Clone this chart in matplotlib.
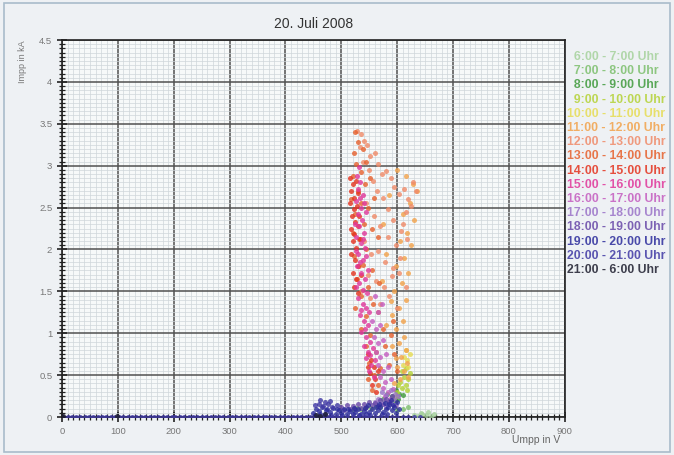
import numpy as np
import matplotlib
matplotlib.use('Agg')
import matplotlib.pyplot as plt
from matplotlib.ticker import MultipleLocator
from matplotlib.patches import Rectangle

plt.rcParams['font.family'] = ['Liberation Sans', 'DejaVu Sans']

# hour bins shown in the key, in drawing order
hour_labels = ['6:00 - 7:00 Uhr', '7:00 - 8:00 Uhr', '8:00 - 9:00 Uhr', '9:00 - 10:00 Uhr',
               '10:00 - 11:00 Uhr', '11:00 - 12:00 Uhr', '12:00 - 13:00 Uhr', '13:00 - 14:00 Uhr',
               '14:00 - 15:00 Uhr', '15:00 - 16:00 Uhr', '16:00 - 17:00 Uhr', '17:00 - 18:00 Uhr',
               '18:00 - 19:00 Uhr', '19:00 - 20:00 Uhr', '20:00 - 21:00 Uhr', '21:00 - 6:00 Uhr']
hour_colors = ['#a6d29c', '#7cbf6c', '#3f9a3c', '#b4d236', '#e6dc52', '#f2a24a', '#f08a68', '#e6602c',
               '#e4321e', '#e0369a', '#c45cc0', '#9a72c8', '#6848a8', '#2c2c9c', '#4038a4', '#1e1e2e']

# (Umpp [V], Impp [A]) samples per hour
pts_0607 = [(630, 0.02), (638, 0.01), (645, 0.03), (652, 0.02), (660, 0.01), (665, 0.03), (642, 0.05), (655, 0.06)]
pts_0708 = [(520, 0.10), (528, 0.11), (536, 0.10), (545, 0.12), (553, 0.11), (562, 0.13), (570, 0.12),
            (600, 0.08), (610, 0.10), (620, 0.12)]
pts_0809 = [(575, 0.22), (582, 0.28), (590, 0.25), (597, 0.32), (604, 0.28), (586, 0.18), (594, 0.20),
            (602, 0.22), (610, 0.26)]
pts_0910 = [(600, 0.30), (608, 0.35), (615, 0.38), (605, 0.42), (612, 0.48), (620, 0.45), (608, 0.55),
            (616, 0.58), (622, 0.52), (602, 0.38), (598, 0.25), (618, 0.32)]
pts_1011 = [(610, 0.62), (618, 0.68), (622, 0.75), (612, 0.72), (620, 0.60), (615, 0.80)]
pts_1112 = [(600, 2.95), (615, 2.88), (628, 2.78), (635, 2.70), (622, 2.55), (610, 2.42), (630, 2.35),
            (618, 2.20), (605, 2.10), (625, 2.05), (612, 1.90), (598, 1.80), (620, 1.72), (608, 1.60),
            (594, 1.50), (615, 1.40), (603, 1.30), (590, 1.22), (610, 1.15), (598, 1.05), (612, 0.95),
            (603, 0.88), (615, 0.80), (607, 0.72), (618, 0.65), (600, 0.60), (612, 0.55), (620, 0.48),
            (605, 0.45), (595, 0.40), (585, 2.65), (575, 2.30), (580, 1.95), (572, 1.62), (588, 1.38),
            (580, 1.10), (590, 0.85), (598, 0.70)]
pts_1213 = [(528, 3.42), (535, 3.38), (541, 3.30), (533, 3.22), (546, 3.25), (552, 3.12), (538, 3.05),
            (560, 3.15), (549, 2.95), (566, 3.02), (572, 2.90), (557, 2.82), (580, 2.94), (563, 2.70),
            (588, 2.85), (575, 2.62), (595, 2.75), (584, 2.48), (603, 2.66), (612, 2.72), (592, 2.35),
            (620, 2.60), (607, 2.22), (628, 2.80), (616, 2.45), (633, 2.70), (545, 2.55), (558, 2.40),
            (570, 2.28), (583, 2.15), (597, 2.05), (611, 2.30), (624, 2.52), (540, 2.10), (553, 1.95),
            (566, 1.98), (579, 1.85), (592, 1.78), (605, 1.90), (618, 2.12), (531, 1.80), (547, 1.70),
            (562, 1.62), (577, 1.55), (590, 1.68), (604, 1.72), (536, 1.50), (551, 1.42), (569, 1.35),
            (586, 1.45), (600, 1.30), (615, 1.55)]
pts_1314 = [(525, 3.40), (530, 3.28), (522, 3.15), (538, 3.20), (527, 3.02), (535, 2.92), (545, 3.05),
            (520, 2.88), (542, 2.78), (530, 2.70), (552, 2.85), (518, 2.60), (536, 2.55), (548, 2.50),
            (525, 2.42), (558, 2.62), (540, 2.30), (520, 2.20), (555, 2.25), (532, 2.12), (545, 2.00),
            (565, 2.15), (522, 1.92), (538, 1.82), (555, 1.75), (528, 1.65), (548, 1.55), (568, 1.60),
            (535, 1.45), (556, 1.35), (525, 1.30), (545, 1.20), (565, 1.25), (535, 1.05), (552, 0.98),
            (575, 1.05), (545, 0.85), (562, 0.78), (550, 0.65), (570, 0.58), (558, 0.50), (548, 0.45),
            (565, 0.38), (555, 0.32), (588, 0.98), (595, 0.75), (600, 0.55), (585, 0.62), (578, 0.85),
            (592, 1.15)]
pts_1415 = [(515, 2.85), (520, 2.78), (526, 2.82), (518, 2.70), (523, 2.62), (530, 2.68), (516, 2.55),
            (522, 2.48), (528, 2.52), (519, 2.40), (525, 2.33), (532, 2.40), (517, 2.25), (523, 2.18),
            (529, 2.28), (520, 2.10), (526, 2.02), (533, 2.12), (518, 1.95), (524, 1.88), (530, 1.80),
            (521, 1.72), (527, 1.65), (535, 1.70), (522, 1.55), (530, 1.48), (548, 0.75), (553, 0.68),
            (558, 0.60), (551, 0.52), (560, 0.45), (555, 0.38), (562, 0.30), (547, 0.60), (565, 0.55)]
pts_1516 = [(528, 2.88), (534, 2.80), (530, 2.72), (538, 2.65), (526, 2.58), (535, 2.50), (541, 2.55),
            (529, 2.42), (537, 2.35), (532, 2.28), (540, 2.20), (527, 2.15), (535, 2.08), (542, 2.02),
            (530, 1.95), (538, 1.88), (544, 1.92), (528, 1.80), (536, 1.72), (542, 1.65), (531, 1.60),
            (539, 1.52), (546, 1.48), (530, 1.42), (538, 1.35), (545, 1.30), (533, 1.22), (541, 1.15),
            (548, 1.10), (536, 1.02), (544, 0.95), (552, 0.90), (540, 0.85), (548, 0.78), (556, 0.82),
            (545, 0.70), (553, 0.62), (560, 0.68), (550, 0.55), (558, 0.48), (532, 2.98), (545, 2.45),
            (547, 1.75), (550, 1.25), (525, 2.30), (526, 1.98), (527, 1.55), (533, 2.62), (539, 2.12),
            (534, 1.85), (535, 1.28), (543, 1.05), (551, 0.74)]
pts_1617 = [(555, 1.15), (562, 1.05), (570, 1.10), (558, 0.95), (566, 0.88), (575, 0.92), (562, 0.78),
            (570, 0.72), (580, 0.75), (566, 0.62), (575, 0.55), (584, 0.60), (570, 0.48), (579, 0.42),
            (588, 0.45), (574, 0.35), (583, 0.30), (592, 0.33), (578, 0.25), (587, 0.22), (565, 1.25),
            (572, 1.35), (560, 1.45)]
pts_1718 = [(572, 0.30), (580, 0.26), (588, 0.32), (596, 0.28), (576, 0.20), (585, 0.18), (594, 0.22),
            (602, 0.25), (570, 0.15), (580, 0.12), (590, 0.16), (598, 0.14), (565, 0.22), (560, 0.18)]
pts_1819 = [(500, 0.12), (510, 0.14), (520, 0.13), (530, 0.16), (540, 0.15), (550, 0.18), (560, 0.17),
            (570, 0.20), (580, 0.22), (505, 0.08), (515, 0.10), (525, 0.09), (535, 0.11), (545, 0.12),
            (555, 0.14), (565, 0.13), (575, 0.16), (585, 0.18), (590, 0.25)]
pts_1920 = [(450, 0.05), (455, 0.10), (460, 0.07), (465, 0.12), (470, 0.04), (475, 0.09), (480, 0.06),
            (485, 0.11), (490, 0.03), (495, 0.08), (500, 0.05), (505, 0.10), (510, 0.04), (515, 0.07),
            (520, 0.03), (525, 0.06), (530, 0.09), (535, 0.04), (540, 0.07), (545, 0.03), (550, 0.06),
            (555, 0.10), (560, 0.05), (565, 0.08), (570, 0.12), (575, 0.06), (580, 0.10), (585, 0.15),
            (590, 0.08), (595, 0.12), (600, 0.18), (588, 0.20), (578, 0.17), (452, 0.02), (462, 0.03),
            (472, 0.08), (482, 0.02), (492, 0.10), (502, 0.02), (512, 0.09), (522, 0.11), (532, 0.02),
            (542, 0.11), (552, 0.02), (562, 0.12), (572, 0.03), (582, 0.04), (592, 0.14), (597, 0.05),
            (603, 0.10), (583, 0.12), (568, 0.16), (548, 0.14)]
pts_2021 = [(452, 0.14), (460, 0.16), (468, 0.13), (476, 0.15), (484, 0.12), (492, 0.14), (462, 0.20),
            (470, 0.18), (480, 0.19),
            (2, 0), (10, 0), (18, 0), (25, 0), (33, 0), (41, 0), (48, 0), (56, 0), (64, 0), (71, 0),
            (79, 0), (87, 0), (95, 0), (102, 0), (110, 0), (118, 0), (126, 0), (133, 0), (141, 0),
            (149, 0), (157, 0), (165, 0), (172, 0), (180, 0), (188, 0), (196, 0), (203, 0), (211, 0),
            (219, 0), (227, 0), (234, 0), (242, 0), (250, 0), (258, 0), (266, 0), (273, 0), (281, 0),
            (289, 0), (297, 0), (304, 0), (312, 0), (320, 0), (328, 0), (335, 0), (343, 0), (351, 0),
            (359, 0), (366, 0), (374, 0), (382, 0), (390, 0), (397, 0), (405, 0), (413, 0), (421, 0),
            (428, 0), (436, 0), (444, 0), (452, 0), (460, 0), (468, 0), (476, 0), (484, 0), (492, 0),
            (500, 0), (510, 0), (520, 0), (530, 0), (540, 0), (550, 0), (560, 0), (570, 0), (580, 0),
            (590, 0), (600, 0), (610, 0), (620, 0), (630, 0), (640, 0)]
pts_2106 = [(0, 0), (1, 0.01), (98, 0.01), (455, 0.02), (462, 0.01), (470, 0.03)]

series = [pts_0607, pts_0708, pts_0809, pts_0910, pts_1011, pts_1112, pts_1213, pts_1314,
          pts_1415, pts_1516, pts_1617, pts_1718, pts_1819, pts_1920, pts_2021, pts_2106]

fig = plt.figure(figsize=(6.74, 4.55), dpi=100)
fig.patch.set_facecolor('#eef1f4')
fig.patches.append(Rectangle((0.006, 0.006), 0.988, 0.988, transform=fig.transFigure,
                             fill=False, edgecolor='#a9bccb', linewidth=1.2))

ax = fig.add_axes([0.092, 0.0835, 0.746, 0.8285])
ax.set_facecolor('#f7f9f9')

for pts, col in zip(series, hour_colors):
    u, i = np.array(pts, dtype=float).T
    ax.scatter(u, i, s=13, color=col, marker='o', linewidths=0, alpha=0.8, zorder=3)

ax.set_xlim(0, 900)
ax.set_ylim(0, 4.5)
ax.xaxis.set_major_locator(MultipleLocator(100))
ax.xaxis.set_minor_locator(MultipleLocator(10))
ax.yaxis.set_major_locator(MultipleLocator(0.5))
ax.yaxis.set_minor_locator(MultipleLocator(0.05))
ax.yaxis.set_major_formatter(matplotlib.ticker.FormatStrFormatter('%g'))

ax.grid(which='major', color='#505050', linewidth=1.1, zorder=1)
ax.grid(which='minor', color='#cfd6da', linewidth=0.5, zorder=0)
ax.set_axisbelow(True)
for sp in ax.spines.values():
    sp.set_color('#222222')
    sp.set_linewidth(1.2)

ax.tick_params(which='major', direction='inout', length=7, width=1.2, color='#222222',
               labelsize=6.8, labelcolor='#777777')
ax.tick_params(which='minor', direction='inout', length=4, width=0.9, color='#222222')
ax.tick_params(axis='x', which='both', top=False)
ax.tick_params(axis='y', which='both', right=False)

ax.set_title('20. Juli 2008', fontsize=10, color='#333333', pad=9)
fig.text(0.033, 0.912, 'Impp in kA', rotation=90, ha='center', va='top', fontsize=6.5, color='#777777')
fig.text(0.795, 0.022, 'Umpp in V', ha='center', va='bottom', fontsize=7.5, color='#666666')

# hour key on the right
y0, dy = 1 - 57 / 455, 14.2 / 455
for k, (lab, col) in enumerate(zip(hour_labels, hour_colors)):
    txt = lab if lab[1] != ':' else '\u2007' + lab
    fig.text(0.841, y0 - k * dy, txt, ha='left', va='center', fontsize=8.8,
             fontweight='bold', color=col, alpha=0.85)

fig.savefig('out.png', dpi=100, facecolor=fig.get_facecolor())
